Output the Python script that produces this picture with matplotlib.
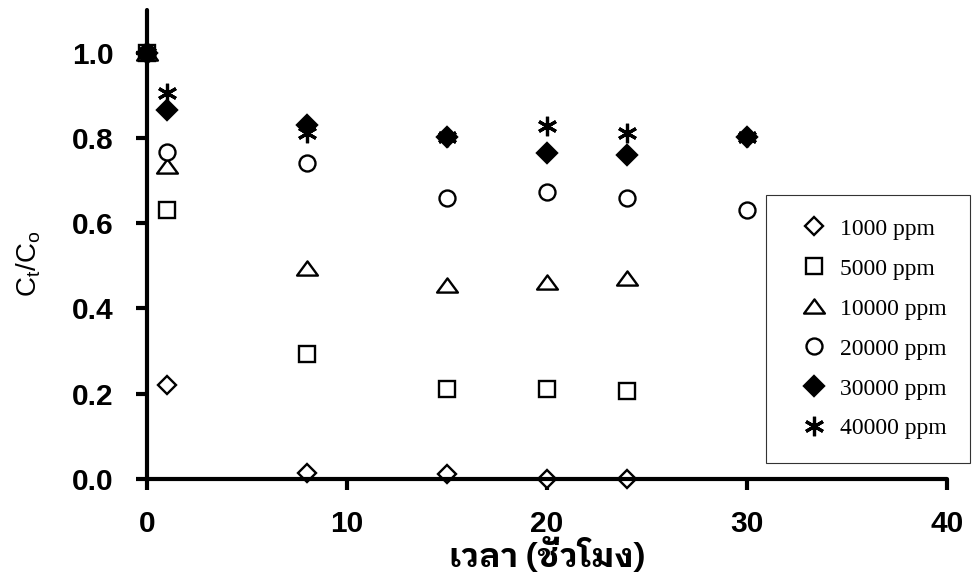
"""
Ct/Co versus time for six inlet concentrations (scatter, markers only).
"""

import matplotlib
matplotlib.use('Agg')
import matplotlib.pyplot as plt
from matplotlib import font_manager
from matplotlib.ft2font import FT2Font
from matplotlib.path import Path

# Sampling times [h]
time_short = [0, 1, 8, 15, 20, 24]
time_long = [0, 1, 8, 15, 20, 24, 30]

# Ct/Co per concentration
ratio_1000 = [1.0, 0.22, 0.015, 0.012, 0.0, 0.0]
ratio_5000 = [1.0, 0.63, 0.293, 0.211, 0.211, 0.207]
ratio_10000 = [1.0, 0.733, 0.495, 0.455, 0.463, 0.472]
ratio_20000 = [1.0, 0.768, 0.742, 0.66, 0.672, 0.66, 0.631]
ratio_30000 = [1.0, 0.866, 0.831, 0.803, 0.765, 0.76, 0.803]
ratio_40000 = [1.0, 0.906, 0.812, 0.803, 0.827, 0.812, 0.803]

labels = ['1000 ppm', '5000 ppm', '10000 ppm', '20000 ppm', '30000 ppm', '40000 ppm']
x_ticks = [0, 10, 20, 30, 40]
y_ticks = [0.0, 0.2, 0.4, 0.6, 0.8, 1.0]
x_label = 'เวลา (ชั่วโมง)'
y_label = r'$\mathregular{C_t/C_o}$'


def find_thai_font():
    """Pick an installed family that has Thai glyphs, bold sans preferred"""
    found = []
    for f in font_manager.fontManager.ttflist:
        try:
            cmap = FT2Font(f.fname).get_charmap()
        except Exception:
            continue
        if 0x0E40 in cmap and 0x0E27 in cmap:
            score = 0
            if 'sans' in f.name.lower():
                score += 2
            if f.weight in ('bold', 700):
                score += 1
            found.append((score, f.name))
    if not found:
        return None
    found.sort(reverse=True)
    return found[0][1]


thai_font = find_thai_font()
xlabel_family = [thai_font, 'Liberation Sans'] if thai_font else ['Liberation Sans']

# Wide-ish triangle for the 10000 ppm series
tri_marker = Path([(0, 0.68), (-1, -0.68), (1, -0.68), (0, 0.68)],
                  [Path.MOVETO, Path.LINETO, Path.LINETO, Path.CLOSEPOLY])

fig = plt.figure(figsize=(9.73, 5.79), dpi=100)
ax = fig.add_axes([0.151, 0.1727, 0.822, 0.81])

mk = dict(linestyle='none', markeredgecolor='k', markeredgewidth=1.7)
ax.plot(time_short, ratio_1000, marker='D', markersize=9, markerfacecolor='white', label=labels[0], clip_on=False, **mk)
ax.plot(time_short, ratio_5000, marker='s', markersize=11, markerfacecolor='white', label=labels[1], clip_on=False, **mk)
ax.plot(time_short, ratio_10000, marker=tri_marker, markersize=15, markerfacecolor='white', label=labels[2], clip_on=False, **mk)
ax.plot(time_long, ratio_20000, marker='o', markersize=11.5, markerfacecolor='white', label=labels[3], clip_on=False, **mk)
ax.plot(time_long, ratio_40000, marker=(6, 2, 0), markersize=14, color='k', label=labels[5], clip_on=False,
        linestyle='none', markeredgewidth=2.3)
ax.plot(time_long, ratio_30000, marker='D', markersize=10.5, markerfacecolor='k', label=labels[4], clip_on=False, **mk)

ax.set_xlim(0, 40)
ax.set_ylim(0, 1.1)
ax.set_xticks(x_ticks)
ax.set_yticks(y_ticks)
ax.set_yticklabels([f'{v:.1f}' for v in y_ticks])

for side in ['top', 'right']:
    ax.spines[side].set_visible(False)
for side in ['left', 'bottom']:
    ax.spines[side].set_linewidth(3)
    ax.spines[side].set_capstyle('round')

ax.tick_params(axis='x', which='major', direction='out', length=8, width=3, pad=14.5)
ax.tick_params(axis='y', which='major', direction='out', length=8, width=3, pad=16)
for lbl in ax.get_xticklabels() + ax.get_yticklabels():
    lbl.set_fontfamily('Liberation Sans')
    lbl.set_fontweight('bold')
    lbl.set_fontsize(21.5)

ax.set_xlabel(x_label, family=xlabel_family, fontweight='bold', fontsize=24, labelpad=0)
ax.set_ylabel(y_label, family='Liberation Sans', fontsize=20)
ax.yaxis.set_label_coords(-0.13, 0.46)

# Legend in the order of the concentration list
handles, names = ax.get_legend_handles_labels()
order = [names.index(n) for n in labels]
leg = ax.legend([handles[i] for i in order], [names[i] for i in order],
                loc='lower right', bbox_to_anchor=(1.029, 0.034), numpoints=1,
                prop={'family': 'Liberation Serif', 'size': 17}, frameon=True, fancybox=False,
                framealpha=1, edgecolor='#333333', handlelength=2.0, handletextpad=0.1,
                labelspacing=0.78, borderpad=1.0, borderaxespad=0)
leg.get_frame().set_linewidth(0.8)
leg.set_clip_on(False)

fig.savefig('out.png', dpi=100)
plt.close(fig)
